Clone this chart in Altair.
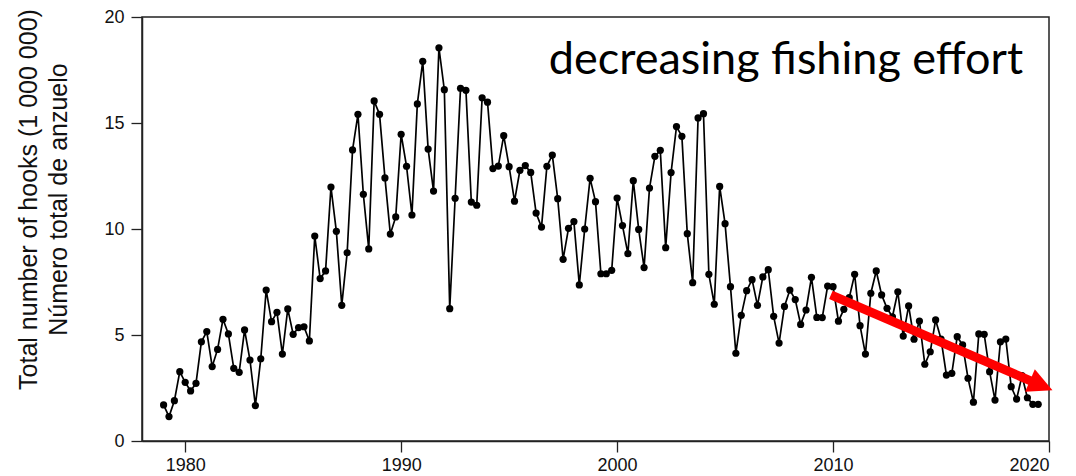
import altair as alt
import pandas as pd

# Quarterly longline effort, 1979 Q1 .. 2019 Q3 (millions of hooks)
start_year = 1979
hooks = [
    1.70, 1.15, 1.90, 3.27, 2.77, 2.36, 2.72, 4.68,
    5.16, 3.51, 4.32, 5.74, 5.05, 3.43, 3.24, 5.24,
    3.82, 1.67, 3.88, 7.12, 5.63, 6.07, 4.10, 6.23,
    5.03, 5.35, 5.39, 4.72, 9.67, 7.66, 8.02, 11.98,
    9.89, 6.40, 8.88, 13.73, 15.41, 11.64, 9.06, 16.04,
    15.41, 12.41, 9.76, 10.57, 14.47, 12.96, 10.66, 15.90,
    17.91, 13.77, 11.79, 18.55, 16.57, 6.24, 11.45, 16.64,
    16.54, 11.27, 11.12, 16.19, 15.98, 12.85, 12.97, 14.40,
    12.94, 11.31, 12.77, 12.99, 12.67, 10.75, 10.09, 12.96,
    13.49, 11.43, 8.57, 10.03, 10.35, 7.36, 10.00, 12.39,
    11.29, 7.89, 7.89, 8.05, 11.46, 10.16, 8.84, 12.28,
    9.98, 8.18, 11.93, 13.43, 13.71, 9.12, 12.66, 14.83,
    14.37, 9.78, 7.47, 15.24, 15.44, 7.86, 6.45, 12.01,
    10.25, 7.28, 4.14, 5.93, 7.09, 7.61, 6.40, 7.74,
    8.08, 5.88, 4.62, 6.35, 7.12, 6.67, 5.50, 6.18,
    7.72, 5.83, 5.82, 7.31, 7.28, 5.65, 6.21, 6.76,
    7.86, 5.44, 4.10, 6.97, 8.02, 6.89, 6.26, 5.86,
    7.04, 4.95, 6.37, 4.80, 5.66, 3.62, 4.21, 5.71,
    4.81, 3.11, 3.19, 4.92, 4.53, 2.96, 1.83, 5.05,
    5.03, 3.27, 1.93, 4.68, 4.81, 2.56, 1.98, 3.08,
    2.04, 1.73, 1.73,
]
quarters = [start_year + 0.25 * i for i in range(len(hooks))]

year_ticks = [1980, 1990, 2000, 2010, 2020]
value_ticks = [0, 5, 10, 15, 20]

# Trend arrow (shaft start, head centre) in data units
arrow_start = (2009.9, 6.89)
arrow_head = (2019.64, 2.62)
arrow_angle = 23.3

annotation = "decreasing fishing effort"
annotation_pos = (2018.8, 17.3)

df = pd.DataFrame({"year": quarters, "hooks": hooks})

x_scale = alt.Scale(domain=[1978, 2020], nice=False, zero=False)
y_scale = alt.Scale(domain=[0, 20], nice=False)

x_enc = alt.X(
    "year:Q", scale=x_scale,
    axis=alt.Axis(values=year_ticks, format="d", title=None, labelPadding=4),
)
y_enc = alt.Y(
    "hooks:Q", scale=y_scale,
    axis=alt.Axis(
        values=value_ticks,
        labelPadding=7,
        title=["Total number of hooks (1 000 000)", "Número total de anzuelo"],
        titleFont="Liberation Sans", titleFontSize=25, titleFontWeight="normal",
        titleColor="#111", titleLineHeight=30, titleAngle=270,
        titleBaseline="middle", titleAlign="center",
        titleX=-114, titleY=182,
    ),
)

line = alt.Chart(df).mark_line(color="black", strokeWidth=1.7).encode(x=x_enc, y=y_enc)
points = alt.Chart(df).mark_circle(color="black", size=52, opacity=1).encode(x="year:Q", y="hooks:Q")

arrow_df = pd.DataFrame({
    "x": [arrow_start[0]], "y": [arrow_start[1]],
    "x2": [arrow_head[0]], "y2": [arrow_head[1]],
})
shaft = alt.Chart(arrow_df).mark_rule(color="#ff0000", strokeWidth=9, strokeCap="butt").encode(
    x="x:Q", y="y:Q", x2="x2:Q", y2="y2:Q"
)
head = alt.Chart(arrow_df).mark_point(
    shape="M-1,-1L1,0L-1,1Z", filled=True, color="#ff0000", opacity=1,
    size=600, angle=arrow_angle,
).encode(x="x2:Q", y="y2:Q")

label_df = pd.DataFrame({"x": [annotation_pos[0]], "y": [annotation_pos[1]], "t": [annotation]})
label = alt.Chart(label_df).mark_text(
    align="right", baseline="alphabetic", font="Lato", fontSize=45, color="black"
).encode(x="x:Q", y="y:Q", text="t:N")

chart = (
    alt.layer(line, points, shaft, head, label)
    .properties(
        width=907, height=424,
        padding={"left": 142, "top": 17, "right": 27, "bottom": 35},
        autosize=alt.AutoSizeParams(type="none"),
        background="white",
    )
    .configure_view(stroke="#222", strokeWidth=1.5)
    .configure_axis(
        grid=False,
        labelFont="Liberation Sans", labelFontSize=18, labelColor="#111",
        tickColor="#222", tickSize=11, tickWidth=1.3,
        domainColor="#222", domainWidth=1.5,
    )
)

chart.save("out.html", embed_options={"renderer": "svg", "actions": False})
